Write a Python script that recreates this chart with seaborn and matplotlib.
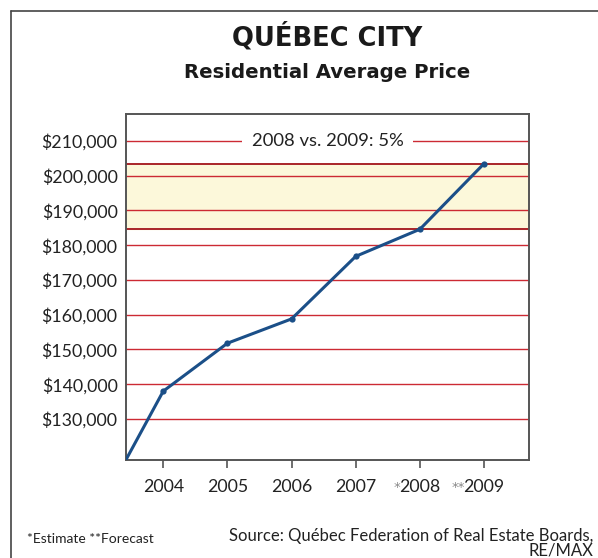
import matplotlib
matplotlib.use("Agg")
import matplotlib.pyplot as plt
import seaborn as sns
import pandas as pd
from matplotlib.lines import Line2D
from matplotlib.ticker import FuncFormatter
import matplotlib.transforms as mtransforms

# ---- data ----
years = [2003, 2004, 2005, 2006, 2007, 2008, 2009]
prices = [104000, 138000, 151800, 158800, 176800, 184600, 203500]
tick_years = [2004, 2005, 2006, 2007, 2008, 2009]
tick_labels = ["2004", "2005", "2006", "2007", "2008", "2009"]
tick_marks = ["", "", "", "", "*", "**"]
y_ticks = [130000, 140000, 150000, 160000, 170000, 180000, 190000, 200000, 210000]
band_low, band_high = 184600, 203500
title = "QUÉBEC CITY"
subtitle = "Residential Average Price"
band_label = "2008 vs. 2009: 5%"
footnote = "*Estimate **Forecast"
source = "Source: Québec Federation of Real Estate Boards,\nRE/MAX"

sns.set_theme(style="white")
plt.rcParams["font.family"] = ["Lato", "DejaVu Sans"]

W, H = 598, 558
fig = plt.figure(figsize=(W / 100, H / 100), dpi=100)
ax = fig.add_axes([126 / W, 1 - 460 / H, (529 - 126) / W, (460 - 114) / H])

df = pd.DataFrame({"year": years, "price": prices})

# band + grid
ax.axhspan(band_low, band_high, color="#FCF8DA", zorder=0)
for v in y_ticks:
    ax.axhline(v, color="#CC2A33", lw=1.0, zorder=1)
for v in (band_low, band_high):
    ax.axhline(v, color="#A3141B", lw=1.3, zorder=1)

sns.lineplot(data=df, x="year", y="price", ax=ax, color="#1B4F88", lw=2.2,
             marker="o", markersize=4.5, markeredgewidth=0, zorder=3)

ax.set_xlim(2003.42, 2009.70)
ax.set_ylim(118200, 217760)
ax.set_xlabel("")
ax.set_ylabel("")

ax.set_yticks(y_ticks)
ax.yaxis.set_major_formatter(FuncFormatter(lambda v, p: f"${int(v):,}"))
ax.set_xticks(tick_years)
ax.set_xticklabels(tick_labels)
ax.tick_params(axis="y", length=0, pad=6, labelsize=12.8, labelcolor="#222222")
ax.tick_params(axis="x", length=6, width=1.2, color="#555555", direction="out",
               pad=8, labelsize=12.8, labelcolor="#222222", bottom=True)

for s in ax.spines.values():
    s.set_color("#555555")
    s.set_linewidth(1.4)

# asterisks before years
trans_x = mtransforms.blended_transform_factory(ax.transData, ax.transAxes)
for yr, mk in zip(tick_years, tick_marks):
    if mk:
        ax.annotate(mk, xy=(yr, 0), xycoords=trans_x, xytext=(-14, -15),
                    textcoords="offset points", ha="right", va="top",
                    fontsize=9.5, color="#888888", family=["DejaVu Sans"])

# label on top gridline
trans_y = mtransforms.blended_transform_factory(ax.transAxes, ax.transData)
ax.text(0.5, 210000, band_label, transform=trans_y, ha="center", va="center",
        fontsize=13.3, color="#222222", zorder=4,
        bbox=dict(facecolor="white", edgecolor="none", pad=7))

# titles
cx = (126 + 529) / 2 / W
fig.text(cx, 1 - 37 / H, title, ha="center", va="center", fontsize=18.5,
         fontweight="bold", color="#1a1a1a", family=["DejaVu Sans"])
fig.text(cx, 1 - 73 / H, subtitle, ha="center", va="center", fontsize=14.2,
         fontweight="bold", color="#1a1a1a", family=["DejaVu Sans"])

# footer
fig.text(27 / W, 1 - 539 / H, footnote, ha="left", va="center", fontsize=10,
         color="#222222")
fig.text(593 / W, 1 - 528 / H, source, ha="right", va="top", fontsize=12,
         color="#222222", multialignment="right", linespacing=0.86)

# outer frame
fig.add_artist(Line2D([10.5 / W, 10.5 / W], [0, 1 - 10.5 / H],
                      transform=fig.transFigure, color="#444444", lw=1.2))
fig.add_artist(Line2D([10.5 / W, 1], [1 - 10.5 / H, 1 - 10.5 / H],
                      transform=fig.transFigure, color="#444444", lw=1.2))

fig.savefig("out.png", dpi=100)
